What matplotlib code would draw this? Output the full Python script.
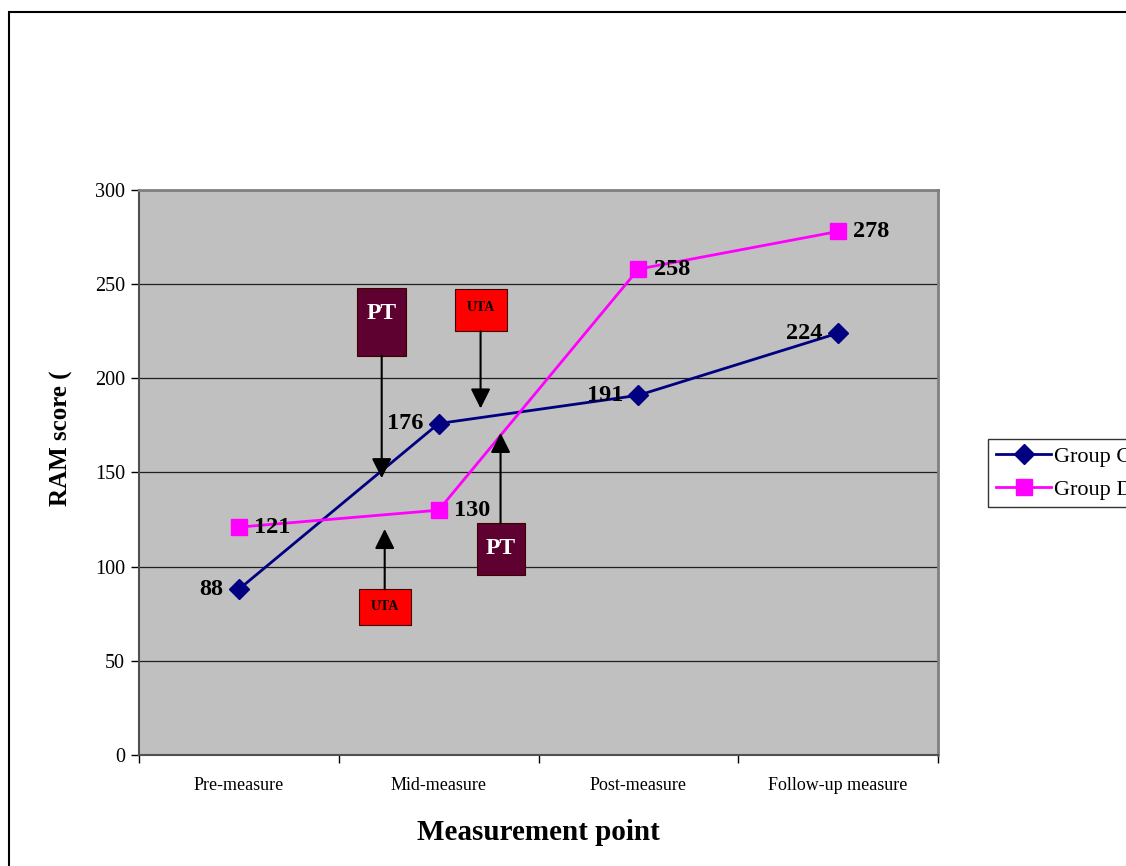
import matplotlib.pyplot as plt
from matplotlib.patches import Rectangle

# measurement points and RAM scores per group
categories = ["Pre-measure", "Mid-measure", "Post-measure", "Follow-up measure"]
group_c = [88, 176, 191, 224]
group_d = [121, 130, 258, 278]
y_ticks = [0, 50, 100, 150, 200, 250, 300]

plt.rcParams["font.family"] = ["Liberation Serif", "DejaVu Serif"]

fig = plt.figure(figsize=(11.26, 8.66), dpi=100)
ax = fig.add_axes([139 / 1126, 1 - 755 / 866, 799 / 1126, 565 / 866])
ax.set_facecolor("#C0C0C0")

x = list(range(len(categories)))

# horizontal gridlines
for v in y_ticks[1:]:
    ax.axhline(v, color="#202020", lw=0.9, zorder=1)

ax.plot(x, group_c, color="#000080", lw=2, marker="D", ms=10,
        label="Group C", zorder=4)
ax.plot(x, group_d, color="#FF00FF", lw=2, marker="s", ms=11,
        label="Group D", zorder=4)

# value labels: C on the left of its markers, D on the right
lab = dict(fontsize=17.5, fontweight="bold", va="center", zorder=5)
for i, v in enumerate(group_c):
    ax.annotate(str(v), (i, v), xytext=(-11, 0), textcoords="offset points",
                ha="right", **lab)
for i, v in enumerate(group_d):
    ax.annotate(str(v), (i, v), xytext=(11, 0), textcoords="offset points",
                ha="left", **lab)


def marker_box(xc, ytop, ybot, w, text, fc, tc, fs, tip, tpos):
    # coloured box with an arrow pointing at the curve
    ax.add_patch(Rectangle((xc - w / 2, ybot), w, ytop - ybot, facecolor=fc,
                           edgecolor="#400000", lw=0.8, zorder=6))
    ax.text(xc, ytop - (ytop - ybot) * tpos, text, color=tc, fontsize=fs,
            fontweight="bold", ha="center", va="center", zorder=7)
    start = ybot if tip < ybot else ytop
    ax.annotate("", xy=(xc, tip), xytext=(xc, start),
                arrowprops=dict(arrowstyle="-|>", color="black", lw=1.5,
                                mutation_scale=30, shrinkA=0, shrinkB=0),
                zorder=6)


marker_box(0.715, 248, 212, 0.245, "PT", "#5E0030", "white", 17, 147, 0.37)
marker_box(1.21, 247.5, 225, 0.26, "UTA", "#FF0000", "black", 10, 184, 0.43)
marker_box(0.73, 88, 69, 0.26, "UTA", "#FF0000", "black", 10, 120, 0.49)
marker_box(1.31, 123, 95.5, 0.24, "PT", "#5E0030", "white", 17, 171, 0.48)

ax.set_xlim(-0.5, 3.5)
ax.set_ylim(0, 300)
ax.set_yticks(y_ticks)
ax.set_yticklabels([str(v) for v in y_ticks], fontsize=14.5)
ax.set_xticks([i - 0.5 for i in range(len(categories) + 1)])
ax.set_xticklabels([])
ax.set_xticks(x, minor=True)
ax.set_xticklabels(categories, minor=True, fontsize=13)
ax.tick_params(axis="x", which="minor", length=0, pad=16)
ax.tick_params(axis="x", which="major", length=6, width=1, color="black")
ax.tick_params(axis="y", length=6, width=1, color="black", pad=4)

for side in ["top", "right"]:
    ax.spines[side].set_color("#808080")
    ax.spines[side].set_linewidth(2)
for side in ["left", "bottom"]:
    ax.spines[side].set_color("#505050")
    ax.spines[side].set_linewidth(1.5)

ax.set_xlabel("Measurement point", fontsize=21, fontweight="bold", labelpad=18)
ax.set_ylabel("RAM score (", fontsize=18, fontweight="bold")
ax.yaxis.set_label_coords(-0.083, 0.56)

leg = fig.legend(loc="center left", bbox_to_anchor=(988 / 1126, 1 - 473 / 866),
                 fontsize=16, frameon=True, fancybox=False, handlelength=2.5,
                 borderpad=0.35, labelspacing=0.55, handletextpad=0.1,
                 borderaxespad=0)
leg.get_frame().set_edgecolor("black")
leg.get_frame().set_linewidth(1)

# outer chart border running off the right and bottom edges
fig.patches.append(Rectangle((9 / 1126, -0.1), 1.2, 1 - 12 / 866 + 0.1,
                             transform=fig.transFigure, fill=False,
                             edgecolor="black", lw=1.5, zorder=0))

fig.savefig("out.png", dpi=100)
